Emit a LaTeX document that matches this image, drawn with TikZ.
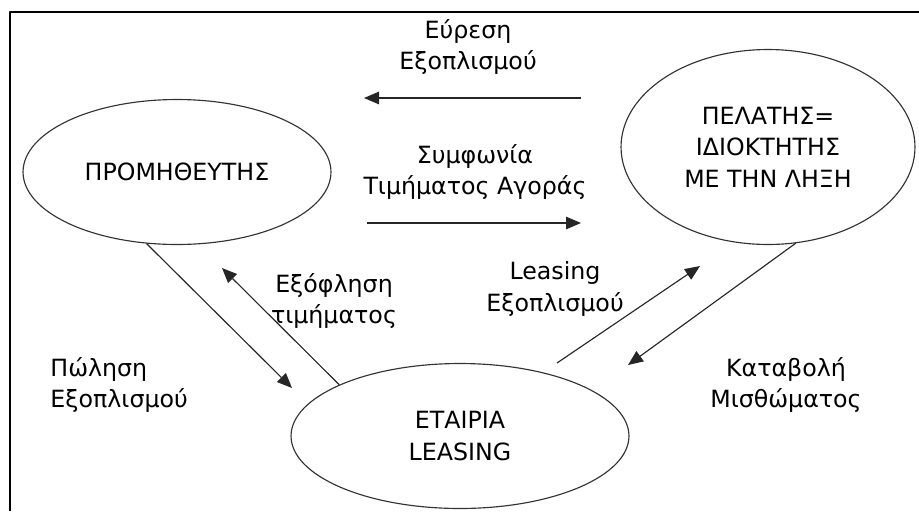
\documentclass[tikz,border=0pt]{standalone}
\usepackage{fontspec}
\setmainfont{DejaVu Sans}
\usetikzlibrary{shapes.geometric,arrows.meta}
\begin{document}
\begin{tikzpicture}[x=0.02cm,y=-0.02cm,line width=0.65pt,line join=round,
  party/.style={draw=black!80,ellipse,inner sep=0pt,align=center,font=\fontsize{13.5}{18}\selectfont},
  flow/.style={draw=black!85,-{Triangle[length=3mm,width=2.5mm]}},
  lbl/.style={align=center,font=\fontsize{13.5}{18}\selectfont}]
  \useasboundingbox (0,0) rectangle (919,511);
  \draw[line width=1.5pt] (10,511) |- (919,12);
  \node[party,minimum width=6.16cm,minimum height=2.9cm] (sup) at (177,172) {ΠΡΟΜΗΘΕΥΤΗΣ};
  \node[party,minimum width=5.88cm,minimum height=3.9cm] (client) at (768,147) {ΠΕΛΑΤΗΣ=\\ΙΔΙΟΚΤΗΤΗΣ\\ΜΕ ΤΗΝ ΛΗΞΗ};
  \node[party,minimum width=6.76cm,minimum height=2.9cm] (lease) at (460,436) {ΕΤΑΙΡΙΑ\\LEASING};
  \node[lbl] (find) at (468,47) {Εύρεση\\Εξοπλισμού};
  \node[lbl] (deal) at (475,172) {Συμφωνία\\Τιμήματος Αγοράς};
  \node[lbl] (pay) at (334,301) {Εξόφληση\\τιμήματος};
  \node[lbl] (lend) at (555,289) {Leasing\\Εξοπλισμού};
  \node[lbl,align=left,anchor=west] (sale) at (44,385) {Πώληση\\Εξοπλισμού};
  \node[lbl] (rent) at (786,385) {Καταβολή\\Μισθώματος};
  \coordinate (findS) at (581,98);
  \coordinate (findE) at (364,98);
  \coordinate (dealS) at (367,223);
  \coordinate (dealE) at (581,223);
  \coordinate (saleE) at (292,388);
  \coordinate (payE) at (222,268);
  \coordinate (lendS) at (557,363);
  \coordinate (lendE) at (700,266);
  \coordinate (rentE) at (628,365);
  \draw[flow] (findS) -- (findE);
  \draw[flow] (dealS) -- (dealE);
  \draw[flow] (sup.247) -- (saleE);
  \draw[flow] (lease.157) -- (payE);
  \draw[flow] (lendS) -- (lendE);
  \draw[flow] (client.-74) -- (rentE);
\end{tikzpicture}
\end{document}
